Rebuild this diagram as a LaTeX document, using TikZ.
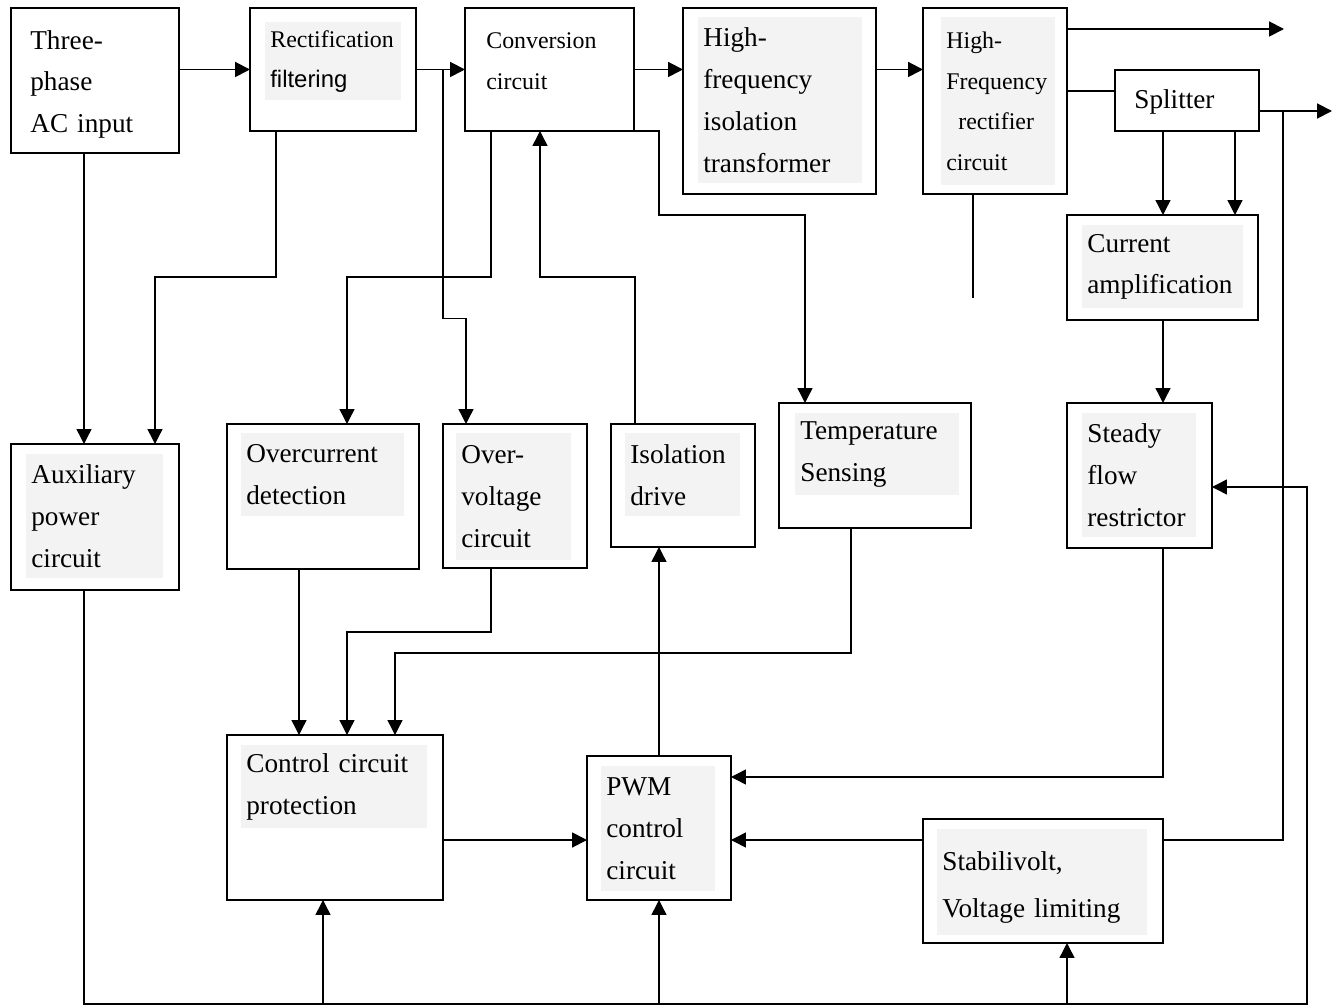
\documentclass[tikz,border=0pt]{standalone}
\usepackage{fontspec}
\setmainfont{Liberation Serif}
\newfontfamily\sansfnt{Liberation Sans}
\usetikzlibrary{arrows.meta,calc}
\definecolor{panegray}{HTML}{F3F3F3}
\newcommand{\bigsz}{\fontsize{15.5pt}{23.8pt}\selectfont}
\newcommand{\smallsz}{\fontsize{13.6pt}{23pt}\selectfont}

\begin{document}
\begin{tikzpicture}[x=0.02cm, y=-0.02cm,
    block/.style={rectangle, draw, line width=1.1pt, anchor=north west, inner sep=0pt, outer sep=0pt},
    pane/.style={rectangle, fill=panegray, anchor=north west, align=left, inner xsep=0.1cm, inner ysep=0pt, font=\bigsz},
    plain/.style={pane, fill=none},
    line/.style={line width=0.8pt},
    arrow/.style={line, -{Triangle[length=8.5pt, width=8.5pt]}},
    flow/.style={arrow, line width=1.1pt}
]
    \useasboundingbox (0,0) rectangle (1339,1007);

    % Top row: power path
    \node[block, minimum width=3.36cm, minimum height=2.90cm] (ac) at (11,8) {};
    \node[plain, text width=2.60cm, minimum height=2.60cm] (acT) at (25,19) {Three-\\phase\\AC input};

    \node[block, minimum width=3.32cm, minimum height=2.46cm] (rf) at (250,8) {};
    \node[pane, text width=2.52cm, minimum height=1.56cm, font=\smallsz] (rfT) at (265,22) {Rectification\\{\sansfnt filtering}};

    \node[block, minimum width=3.38cm, minimum height=2.46cm] (cv) at (465,8) {};
    \node[plain, text width=2.60cm, minimum height=1.56cm, font=\smallsz] (cvT) at (481,22) {Conversion\\circuit};

    \node[block, minimum width=3.86cm, minimum height=3.72cm] (hfi) at (683,8) {};
    \node[pane, text width=3.08cm, minimum height=3.32cm] (hfiT) at (698,17) {High-\\frequency\\isolation\\transformer};

    \node[block, minimum width=2.88cm, minimum height=3.72cm] (hfr) at (923,8) {};
    \node[pane, text width=2.08cm, minimum height=3.36cm, font=\smallsz] (hfrT) at (941,17) {High-\\Frequency\\\hspace*{0.24cm}rectifier\\circuit};

    \node[block, minimum width=2.88cm, minimum height=1.22cm] (sp) at (1115,70) {};
    \node[plain, text width=2.00cm, minimum height=0.80cm] (spT) at (1129,82) {Splitter};

    \node[block, minimum width=3.82cm, minimum height=2.10cm] (ca) at (1067,215) {};
    \node[pane, text width=3.02cm, minimum height=1.66cm] (caT) at (1082,225) {Current\\amplification};

    % Middle row: detection and drive
    \node[block, minimum width=3.36cm, minimum height=2.92cm] (aux) at (11,444) {};
    \node[pane, text width=2.54cm, minimum height=2.48cm] (auxT) at (26,454) {Auxiliary\\power\\circuit};

    \node[block, minimum width=3.84cm, minimum height=2.90cm] (oc) at (227,424) {};
    \node[pane, text width=3.06cm, minimum height=1.66cm] (ocT) at (241,433) {Overcurrent\\detection};

    \node[block, minimum width=2.88cm, minimum height=2.88cm] (ov) at (443,424) {};
    \node[pane, text width=2.10cm, minimum height=2.54cm] (ovT) at (456,433) {Over-\\voltage\\circuit};

    \node[block, minimum width=2.88cm, minimum height=2.46cm] (iso) at (611,424) {};
    \node[pane, text width=2.10cm, minimum height=1.66cm] (isoT) at (625,433) {Isolation\\drive};

    \node[block, minimum width=3.84cm, minimum height=2.50cm] (tmp) at (779,403) {};
    \node[pane, text width=3.08cm, minimum height=1.64cm] (tmpT) at (795,413) {Temperature\\Sensing};

    \node[block, minimum width=2.90cm, minimum height=2.90cm] (sf) at (1067,403) {};
    \node[pane, text width=2.08cm, minimum height=2.48cm] (sfT) at (1082,413) {Steady\\flow\\restrictor};

    % Bottom row: control
    \node[block, minimum width=4.32cm, minimum height=3.30cm] (ccp) at (227,735) {};
    \node[pane, text width=3.52cm, minimum height=1.66cm] (ccpT) at (241,745) {Control circuit\\protection};

    \node[block, minimum width=2.88cm, minimum height=2.88cm] (pwm) at (587,756) {};
    \node[pane, text width=2.08cm, minimum height=2.50cm] (pwmT) at (601,766) {PWM\\control\\circuit};

    \node[block, minimum width=4.80cm, minimum height=2.48cm] (stab) at (923,819) {};
    \node[pane, text width=4.00cm, minimum height=2.12cm, font=\fontsize{15.5pt}{27pt}\selectfont] (stabT) at (937,829) {\rule{0pt}{0.58cm}Stabilivolt,\\Voltage limiting};

    % Free ends and bus
    \coordinate (out1) at (1284,29);
    \coordinate (out2) at (1332,111);
    \coordinate (stub) at (973,298);
    \coordinate (busR) at (1307,1004);
    \coordinate (ccpIn) at ($(ccp.south west)+(96,0)$);
    \coordinate (stabIn) at ($(stab.south west)+(144,0)$);

    % Main power flow
    \draw[flow] (ac.east |- rf.west) -- (rf.west);
    \draw[flow] (rf.east) -- (cv.west);
    \draw[flow] (cv.east) -- (cv.east -| hfi.west);
    \draw[flow] (hfi.east |- cv.east) -- (hfr.west |- cv.east);
    \draw[flow] (hfr.east |- out1) -- (out1);
    \draw[line] ($(hfr.north east)+(0,83)$) -- ($(sp.north west)+(0,21)$);
    \draw[flow] (sp.east |- out2) -- (out2);
    \draw[line] ($(hfr.south west)+(50,0)$) -- (stub);

    % Splitter to current loop
    \draw[arrow] ($(sp.south west)+(48,0)$) -- ($(ca.north west)+(96,0)$);
    \draw[arrow] ($(sp.south west)+(120,0)$) -- ($(ca.north west)+(168,0)$);
    \draw[arrow] ($(ca.south west)+(96,0)$) -- ($(sf.north west)+(96,0)$);
    \draw[arrow] ($(sf.south west)+(96,0)$) |- ($(pwm.north east)+(0,21)$);
    \draw[line] ($(sp.east |- out2)+(24,0)$) |- ($(stab.north east)+(0,21)$);
    \draw[arrow] ($(stab.north west)+(0,21)$) -- ($(pwm.north east)+(0,84)$);

    % Supply branches
    \draw[arrow] ($(ac.south west)+(73,0)$) -- ($(aux.north west)+(73,0)$);
    \draw[arrow] ($(rf.south west)+(26,0)$) -- ++(0,146) -| ($(aux.north west)+(144,0)$);
    \draw[arrow] ($(cv.south west)+(26,0)$) -- ++(0,146) -| ($(oc.north west)+(120,0)$);
    \draw[arrow] (rf.east -| ov.west) -- ++(0,249) -| ($(ov.north west)+(23,0)$);
    \draw[arrow] (cv.south east) -- ++(25,0) -- ++(0,84) -| ($(tmp.north west)+(26,0)$);
    \draw[arrow] ($(iso.north west)+(24,0)$) -- ++(0,-147) -| ($(cv.south west)+(75,0)$);

    % Protection inputs
    \draw[arrow] ($(oc.south west)+(72,0)$) -- ($(ccp.north west)+(72,0)$);
    \draw[arrow] ($(ov.south west)+(48,0)$) -- ++(0,64) -| ($(ccp.north west)+(120,0)$);
    \draw[arrow] ($(tmp.south west)+(72,0)$) -- ++(0,125) -| ($(ccp.north west)+(168,0)$);
    \draw[flow] ($(ccp.north east)+(0,105)$) -- ($(pwm.north west)+(0,84)$);
    \draw[arrow] (pwm.north) -- (pwm.north |- iso.south);

    % Auxiliary supply bus
    \draw[arrow] ($(aux.south west)+(73,0)$) |- (busR) |- ($(sf.north east)+(0,84)$);
    \draw[arrow] (busR -| ccpIn) -- (ccpIn);
    \draw[arrow] (busR -| pwm.south) -- (pwm.south);
    \draw[arrow] (busR -| stabIn) -- (stabIn);
\end{tikzpicture}
\end{document}
